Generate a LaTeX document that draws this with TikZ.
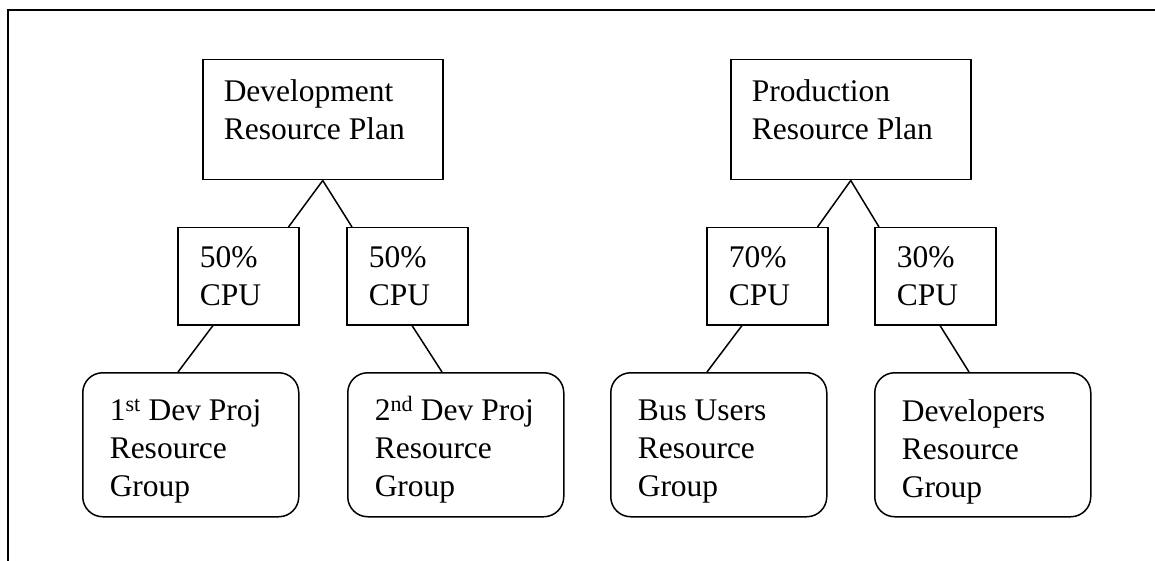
\documentclass[tikz,border=0pt]{standalone}
\usepackage{fontspec}
\setmainfont{Liberation Serif}
\usetikzlibrary{positioning}

% text set at the top left of a box
\newcommand{\boxtext}[3]{\parbox[c][#2][t]{#1}{\raggedright #3}}
\newcommand{\ord}[1]{\smash{\textsuperscript{#1}}}

\begin{document}
\begin{tikzpicture}[x=1pt, y=-1pt, line width=1.5pt,
    font=\fontsize{31.5}{38}\selectfont,
    planbox/.style={draw, inner sep=0pt, anchor=north west, minimum width=240pt, minimum height=120pt},
    cpubox/.style={draw, inner sep=0pt, anchor=north west, minimum width=121pt, minimum height=97pt},
    groupbox/.style={draw, rounded corners=20pt, inner sep=0pt, anchor=north west, minimum width=216pt, minimum height=144pt}]
        \useasboundingbox (0,0) rectangle (1155,561);

        % Frame (open at right and bottom)
        \draw[line width=2pt] (8,561) -- (8,10) -- (1155,10);

        % Development plan
        \node[planbox] (devplan) at (202,59) {\boxtext{198pt}{81pt}{Development\\Resource Plan}};
        \node[cpubox] (devcpua) at (177,227) {\boxtext{77pt}{60pt}{50\%\\CPU}};
        \node[cpubox] (devcpub) at (346,227) {\boxtext{77pt}{60pt}{50\%\\CPU}};
        \node[groupbox] (devgrpa) at (82,372) {\boxtext{162pt}{90pt}{1\ord{st} Dev Proj\\Resource\\Group}};
        \node[groupbox] (devgrpb) at (347,372) {\boxtext{162pt}{90pt}{2\ord{nd} Dev Proj\\Resource\\Group}};

        % Production plan
        \node[planbox] (prodplan) at (730,59) {\boxtext{198pt}{81pt}{Production\\Resource Plan}};
        \node[cpubox] (prodcpua) at (706,227) {\boxtext{77pt}{60pt}{70\%\\CPU}};
        \node[cpubox] (prodcpub) at (874,227) {\boxtext{77pt}{60pt}{30\%\\CPU}};
        \node[groupbox] (prodgrpa) at (610,372) {\boxtext{162pt}{90pt}{Bus Users\\Resource\\Group}};
        \node[groupbox] (prodgrpb) at (874,372) {\boxtext{162pt}{90pt}{Developers\\Resource\\Group}};

        % Links
        \draw (devplan.south) -- ([xshift=-11pt]devcpua.north east);
        \draw (devplan.south) -- ([xshift=6pt]devcpub.north west);
        \draw ([xshift=36pt]devcpua.south west) -- ([xshift=96pt]devgrpa.north west);
        \draw ([xshift=66pt]devcpub.south west) -- ([xshift=95pt]devgrpb.north west);

        \draw (prodplan.south) -- ([xshift=-11pt]prodcpua.north east);
        \draw (prodplan.south) -- ([xshift=5pt]prodcpub.north west);
        \draw ([xshift=36pt]prodcpua.south west) -- ([xshift=97pt]prodgrpa.north west);
        \draw ([xshift=66pt]prodcpub.south west) -- ([xshift=95pt]prodgrpb.north west);
\end{tikzpicture}
\end{document}
